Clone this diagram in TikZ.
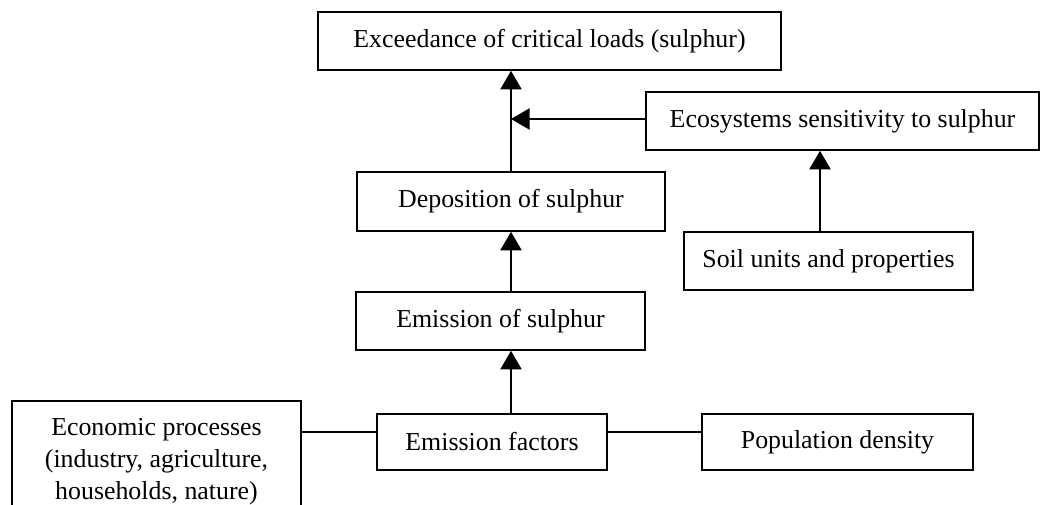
\documentclass[tikz,border=0pt]{standalone}
\usepackage{fontspec}
\setmainfont{Liberation Serif}
\usetikzlibrary{arrows.meta,calc}
\begin{document}
\begin{tikzpicture}[x=0.75pt,y=-0.75pt,
  box/.style={draw, line width=1.2pt, rectangle, inner sep=0pt, align=center,
    font=\fontsize{19.4}{24}\selectfont},
  arr/.style={line width=1.2pt, -{Triangle[length=14pt,width=16pt]}},
  ln/.style={line width=1.2pt}]
\clip (0,0) rectangle (1041,504);
\fill[white] (0,0) rectangle (1041,504);
\node[box, minimum width=347.25pt, minimum height=43.5pt] (exc) at (549.5,41) {Exceedance of critical loads (sulphur)};
\node[box, minimum width=295pt, minimum height=43.5pt] (eco) at (842.5,121) {Ecosystems sensitivity to sulphur};
\node[box, minimum width=231pt, minimum height=44.25pt] (dep) at (511,201.5) {Deposition of sulphur};
\node[box, minimum width=216.75pt, minimum height=43.5pt] (soil) at (828.5,261) {Soil units and properties};
\node[box, minimum width=216.75pt, minimum height=43.5pt] (emi) at (500.5,321) {Emission of sulphur};
\node[box, minimum width=172.5pt, minimum height=42pt] (ef) at (492,442) {Emission factors};
\node[box, minimum width=203.25pt, minimum height=42pt] (pop) at (837.5,442) {Population density};
\node[box, minimum width=216.75pt, minimum height=91.5pt] (econ) at (156.5,462) {Economic processes\\(industry, agriculture,\\households, nature)};
\draw[arr] (dep.north) -- (dep.north |- exc.south);
\coordinate (w1) at ($(eco.west)+(0,-2)$);
\draw[arr] (w1) -- (w1 -| dep.north);
\coordinate (s1) at ($(soil.north)+(-8.5,0)$);
\draw[arr] (s1) -- (s1 |- eco.south);
\draw[arr] (dep.south |- emi.north) -- (dep.south);
\draw[arr] (dep.south |- ef.north) -- (dep.south |- emi.south);
\coordinate (e1) at ($(ef.west)+(0,-10)$);
\coordinate (e2) at ($(ef.east)+(0,-10)$);
\draw[ln] (e1) -- (e1 -| econ.east);
\draw[ln] (e2) -- (e2 -| pop.west);
\end{tikzpicture}
\end{document}
